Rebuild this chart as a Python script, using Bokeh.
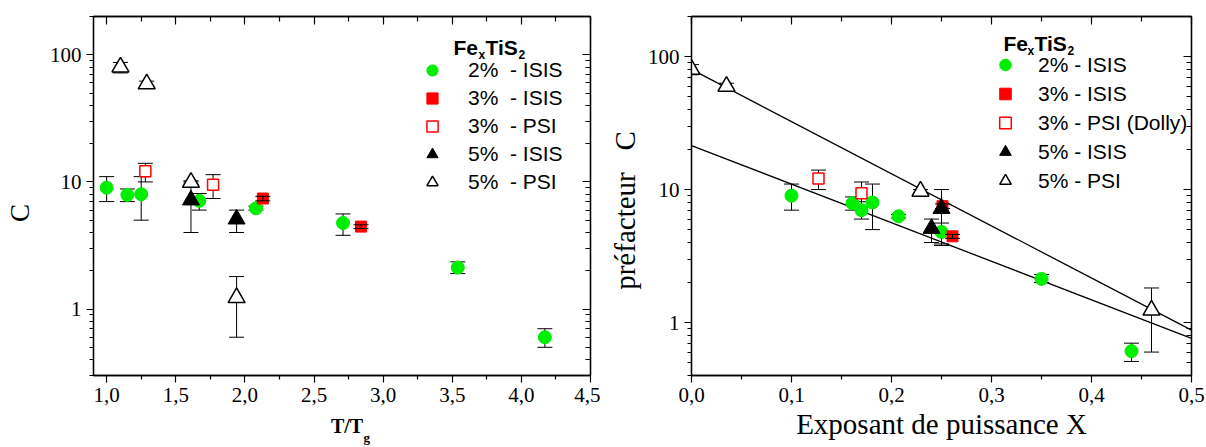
import math
from bokeh.plotting import figure
from bokeh.layouts import row
from bokeh.models import (Range1d, LogAxis, LinearAxis, FixedTicker, CustomJSTickFormatter,
                          Whisker, TeeHead, ColumnDataSource, Legend, LegendItem, Label)
from bokeh.embed import file_html
from bokeh.resources import INLINE

# ---------------- data: left panel (C vs T/Tg) ----------------
L_g2_x = [1.00, 1.15, 1.25, 1.67, 2.08, 2.71, 3.54, 4.17]
L_g2_y = [9.0, 7.9, 8.0, 7.1, 6.2, 4.75, 2.12, 0.60]
L_g2_lo = [7.0, 7.0, 5.0, 6.0, 6.0, 3.8, 1.9, 0.50]
L_g2_hi = [11.0, 8.8, 11.0, 8.1, 6.45, 5.6, 2.35, 0.70]

L_r3_x = [2.13, 2.84]
L_r3_y = [7.4, 4.45]
L_r3_lo = [7.1, 4.3]
L_r3_hi = [7.7, 4.6]

L_o3_x = [1.28, 1.77]
L_o3_y = [12.1, 9.5]
L_o3_lo = [10.0, 7.4]
L_o3_hi = [14.0, 11.4]

L_t5_x = [1.61, 1.94]
L_t5_y = [7.2, 5.1]
L_t5_lo = [4.0, 4.0]
L_t5_hi = [10.0, 6.0]

L_ot5_x = [1.10, 1.29, 1.61, 1.94]
L_ot5_y = [80.0, 59.0, 9.9, 1.23]
L_ot5_lo = [72.0, 55.0, 9.6, 0.6]
L_ot5_hi = [87.0, 62.0, 10.2, 1.8]

# ---------------- data: right panel (C vs exponent X) ----------------
R_g2_x = [0.100, 0.161, 0.170, 0.181, 0.207, 0.250, 0.350, 0.440]
R_g2_y = [9.0, 7.9, 7.0, 8.0, 6.3, 4.8, 2.13, 0.61]
R_g2_lo = [7.0, 7.0, 6.0, 5.0, 6.1, 3.8, 2.0, 0.51]
R_g2_hi = [11.0, 8.8, 8.1, 11.0, 6.5, 5.6, 2.3, 0.70]

R_r3_x = [0.251, 0.261]
R_r3_y = [7.5, 4.45]
R_r3_lo = [7.2, 4.3]
R_r3_hi = [7.8, 4.6]

R_o3_x = [0.127, 0.170]
R_o3_y = [12.1, 9.4]
R_o3_lo = [10.0, 7.4]
R_o3_hi = [14.0, 11.4]

R_t5_x = [0.240, 0.250]
R_t5_y = [5.1, 7.2]
R_t5_lo = [4.0, 3.9]
R_t5_hi = [6.0, 10.0]

R_ot5_x = [0.000, 0.035, 0.229, 0.460]
R_ot5_y = [80.0, 59.7, 9.7, 1.24]
R_ot5_lo = [73.0, 55.0, 9.4, 0.6]
R_ot5_hi = [87.0, 63.0, 10.0, 1.82]

# fitted lines (end points of exponential fits)
fit_x = [0.0, 0.5]
fit_upper = [80.0, 0.877]
fit_lower = [21.4, 0.76]

# ---------------- ticks ----------------
L_xticks = [1.0, 1.5, 2.0, 2.5, 3.0, 3.5, 4.0, 4.5]
L_xlabels = ["1,0", "1,5", "2,0", "2,5", "3,0", "3,5", "4,0", "4,5"]
L_xminor = [1.25, 1.75, 2.25, 2.75, 3.25, 3.75, 4.25]
R_xticks = [0.0, 0.1, 0.2, 0.3, 0.4, 0.5]
R_xlabels = ["0,0", "0,1", "0,2", "0,3", "0,4", "0,5"]
R_xminor = [0.05, 0.15, 0.25, 0.35, 0.45]
yticks = [1, 10, 100]
ylabels = ["1", "10", "100"]
L_yminor = [0.3, 0.4, 0.5, 0.6, 0.7, 0.8, 0.9, 2, 3, 4, 5, 6, 7, 8, 9,
            20, 30, 40, 50, 60, 70, 80, 90, 200]
R_yminor = [0.4, 0.5, 0.6, 0.7, 0.8, 0.9, 2, 3, 4, 5, 6, 7, 8, 9,
            20, 30, 40, 50, 60, 70, 80, 90, 200]

L_legend = ["2%\u00a0 - ISIS", "3%\u00a0 - ISIS", "3%\u00a0 - PSI", "5%\u00a0 - ISIS", "5%\u00a0 - PSI"]
R_legend = ["2% - ISIS", "3% - ISIS", "3% - PSI (Dolly)", "5% - ISIS", "5% - PSI"]

NB = "\u00a0"
L_xtitle = NB * 2 + "T/T"
L_sub = "g"
L_ytitle = "C" + NB * 5
R_xtitle = "Exposant de puissance X"
R_ytitle = "préfacteur" + NB * 3 + "C" + NB * 4

GREEN = "#00ee00"
RED = "#ff0000"
SERIF = "Liberation Serif"
SANS = "Liberation Sans"

FMT = """
const i = tvals.findIndex(t => Math.abs(t - tick) < 1e-9);
return i >= 0 ? tlabels[i] : "";
"""
BLANK = "return '';"


def style_axes(p, xticks, xlabels, xminor, yminor):
    bx = p.below[0]
    ly = p.left[0]
    bx.ticker = FixedTicker(ticks=xticks, minor_ticks=xminor)
    ly.ticker = FixedTicker(ticks=yticks, minor_ticks=yminor)
    bx.formatter = CustomJSTickFormatter(args=dict(tvals=xticks, tlabels=xlabels), code=FMT)
    ly.formatter = CustomJSTickFormatter(args=dict(tvals=yticks, tlabels=ylabels), code=FMT)
    for ax in (bx, ly):
        ax.axis_line_color = "black"
        ax.axis_line_width = 1.3
        ax.major_tick_line_color = "black"
        ax.minor_tick_line_color = "black"
        ax.major_tick_line_width = 1.2
        ax.minor_tick_line_width = 1.2
        ax.major_tick_in = 0
        ax.major_tick_out = 7
        ax.minor_tick_in = 0
        ax.minor_tick_out = 4
        ax.major_label_text_font = SERIF
        ax.major_label_text_font_size = "21px"
        ax.major_label_text_color = "black"
        ax.major_label_standoff = 5
        ax.axis_label_text_font = SERIF
        ax.axis_label_text_color = "black"
        ax.axis_label_text_font_style = "normal"
    # mirrored axes with inward ticks
    top = LinearAxis(ticker=FixedTicker(ticks=xticks, minor_ticks=xminor),
                     formatter=CustomJSTickFormatter(code=BLANK))
    right = LogAxis(ticker=FixedTicker(ticks=yticks, minor_ticks=yminor),
                    formatter=CustomJSTickFormatter(code=BLANK))
    for ax in (top, right):
        ax.axis_line_color = "black"
        ax.axis_line_width = 1.3
        ax.major_tick_line_color = "black"
        ax.minor_tick_line_color = "black"
        ax.major_tick_line_width = 1.2
        ax.minor_tick_line_width = 1.2
        ax.major_tick_in = 8
        ax.major_tick_out = 0
        ax.minor_tick_in = 5
        ax.minor_tick_out = 0
        ax.major_label_text_font_size = "1px"
        ax.major_label_standoff = 0
    p.add_layout(top, "above")
    p.add_layout(right, "right")
    return bx, ly


def add_errors(p, x, lo, hi, level):
    src = ColumnDataSource(dict(x=x, lo=lo, hi=hi))
    w = Whisker(source=src, base="x", upper="hi", lower="lo", dimension="height",
                line_color="black", line_width=1, level=level,
                upper_head=TeeHead(size=15, line_color="black", line_width=1),
                lower_head=TeeHead(size=15, line_color="black", line_width=1))
    p.add_layout(w)


def panel(width, mb_left, mb_right, mb_top, mb_bottom, xr, yr):
    p = figure(width=width, height=447, x_range=Range1d(*xr), y_range=Range1d(*yr),
               y_axis_type="log", output_backend="svg", toolbar_location=None,
               min_border_left=mb_left, min_border_right=mb_right,
               min_border_top=mb_top, min_border_bottom=mb_bottom)
    p.grid.grid_line_color = None
    p.outline_line_color = "black"
    p.outline_line_width = 1.3
    p.background_fill_color = "white"
    p.border_fill_color = "white"
    return p


def series(p, d, legend_labels, loc, standoff, row_h):
    (g2x, g2y, g2lo, g2hi), (r3x, r3y, r3lo, r3hi), (o3x, o3y, o3lo, o3hi), \
        (t5x, t5y, t5lo, t5hi), (ot5x, ot5y, ot5lo, ot5hi) = d
    add_errors(p, g2x, g2lo, g2hi, "underlay")
    add_errors(p, o3x, o3lo, o3hi, "underlay")
    add_errors(p, t5x, t5lo, t5hi, "underlay")
    add_errors(p, ot5x, ot5lo, ot5hi, "underlay")
    rg = p.scatter(g2x, g2y, marker="circle", size=13, fill_color=GREEN, line_color=GREEN)
    rr = p.scatter(r3x, r3y, marker="square", size=11, fill_color=RED, line_color=RED)
    ro = p.scatter(o3x, o3y, marker="square", size=11, fill_color="white", line_color=RED, line_width=1.5)
    rt = p.scatter(t5x, t5y, marker="triangle", size=17, fill_color="black", line_color="black")
    rot = p.scatter(ot5x, ot5y, marker="triangle", size=17, fill_color="white", line_color="black", line_width=1.5)
    add_errors(p, r3x, r3lo, r3hi, "overlay")
    items = [LegendItem(label=lab, renderers=[r]) for lab, r in zip(legend_labels, [rg, rr, ro, rt, rot])]
    leg = Legend(items=items, location=loc, glyph_width=34, glyph_height=row_h, spacing=0,
                 label_standoff=standoff, padding=0, margin=0, border_line_color=None,
                 background_fill_alpha=0, label_text_font=SANS, label_text_font_size="21px",
                 label_height=row_h, label_text_color="black")
    p.add_layout(leg)


def lab(p, x, y, text, size, font=SERIF, style="normal", place="center", units="screen"):
    p.add_layout(Label(x=x, y=y, x_units=units, y_units=units, text=text,
                       text_font=font, text_font_size=size, text_font_style=style,
                       text_align="left", text_baseline="alphabetic",
                       text_color="black"), place)


# ---------------- left panel ----------------
p1 = panel(600, 93, 10, 16, 70, (0.905, 4.5), (0.3, 200))
bx1, ly1 = style_axes(p1, L_xticks, L_xlabels, L_xminor, L_yminor)
series(p1, [(L_g2_x, L_g2_y, L_g2_lo, L_g2_hi), (L_r3_x, L_r3_y, L_r3_lo, L_r3_hi),
            (L_o3_x, L_o3_y, L_o3_lo, L_o3_hi), (L_t5_x, L_t5_y, L_t5_lo, L_t5_hi),
            (L_ot5_x, L_ot5_y, L_ot5_lo, L_ot5_hi)], L_legend, (322, 179), 19, 28)
ly1.axis_label = L_ytitle
ly1.axis_label_text_font_size = "27px"
ly1.axis_label_standoff = 12
bx1.axis_label = L_xtitle
bx1.axis_label_text_font_size = "20px"
bx1.axis_label_text_font_style = "bold"
bx1.axis_label_standoff = 10
# subscript g of T/Tg (canvas pixels, placed in the narrow right-hand panel)
lab(p1, 363, 437, L_sub, "13px", style="bold", place="right", units="canvas")
# legend title Fe_x TiS_2 (inside frame, frame-relative pixels)
lab(p1, 360, 328, "Fe", "21px", font=SANS, style="bold")
lab(p1, 385, 321, "x", "12px", font=SANS, style="bold")
lab(p1, 392, 328, "TiS", "21px", font=SANS, style="bold")
lab(p1, 425, 321, "2", "12px", font=SANS, style="bold")

# ---------------- right panel ----------------
p2 = panel(606, 91, 15, 14, 72, (0.0, 0.5), (0.4, 200))
bx2, ly2 = style_axes(p2, R_xticks, R_xlabels, R_xminor, R_yminor)
p2.line(fit_x, fit_upper, line_color="black", line_width=1.3)
p2.line(fit_x, fit_lower, line_color="black", line_width=1.3)
series(p2, [(R_g2_x, R_g2_y, R_g2_lo, R_g2_hi), (R_r3_x, R_r3_y, R_r3_lo, R_r3_hi),
            (R_o3_x, R_o3_y, R_o3_lo, R_o3_hi), (R_t5_x, R_t5_y, R_t5_lo, R_t5_hi),
            (R_ot5_x, R_ot5_y, R_ot5_lo, R_ot5_hi)], R_legend, (297, 180), 16, 29)
ly2.axis_label = R_ytitle
ly2.axis_label_text_font_size = "29px"
ly2.axis_label_standoff = 4
bx2.axis_label = R_xtitle
bx2.axis_label_text_font_size = "29px"
bx2.axis_label_standoff = 3
lab(p2, 312, 332, "Fe", "21px", font=SANS, style="bold")
lab(p2, 336, 325, "x", "12px", font=SANS, style="bold")
lab(p2, 343, 332, "TiS", "21px", font=SANS, style="bold")
lab(p2, 376, 325, "2", "12px", font=SANS, style="bold")

layout = row(p1, p2)
open("out.html", "w").write(file_html(layout, INLINE))
